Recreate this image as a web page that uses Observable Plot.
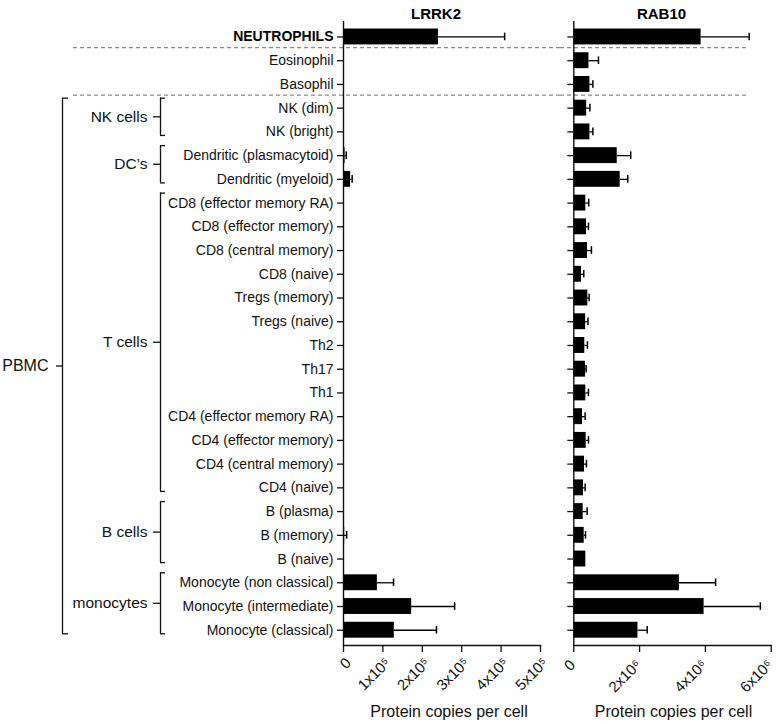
<!DOCTYPE html>
<html><head><meta charset="utf-8">
<script src="https://cdn.jsdelivr.net/npm/d3@7"></script>
<script src="https://cdn.jsdelivr.net/npm/@observablehq/plot@0.6"></script>
<style>
body{margin:0;background:#fff}
#wrap{position:relative;width:780px;height:724px;font-family:"Liberation Sans",Arial,sans-serif}
#left{position:absolute;left:0;top:0}
#right{position:absolute;left:560px;top:0}
</style></head><body>
<div id="wrap"><div id="left"></div><div id="right"></div></div>
<script>
// ---- data ----
const cellTypes = [
  "NEUTROPHILS","Eosinophil","Basophil","NK (dim)","NK (bright)",
  "Dendritic (plasmacytoid)","Dendritic (myeloid)",
  "CD8 (effector memory RA)","CD8 (effector memory)","CD8 (central memory)","CD8 (naive)",
  "Tregs (memory)","Tregs (naive)","Th2","Th17","Th1",
  "CD4 (effector memory RA)","CD4 (effector memory)","CD4 (central memory)","CD4 (naive)",
  "B (plasma)","B (memory)","B (naive)",
  "Monocyte (non classical)","Monocyte (intermediate)","Monocyte (classical)"
];
const boldRows = ["NEUTROPHILS"];
// LRRK2 copies per cell (null = not detected)
const lrrk2Mean = [241000,null,null,null,null,4000,18000,null,null,null,null,null,null,null,null,null,null,null,null,null,null,3000,null,86000,173000,129000];
const lrrk2SD   = [168000,null,null,null,null,3000,4000,null,null,null,null,null,null,null,null,null,null,null,null,null,null,5000,null,41000,109000,107000];
// RAB10 copies per cell
const rab10Mean = [3870000,460000,490000,390000,490000,1320000,1410000,365000,386000,416000,234000,426000,360000,334000,356000,365000,264000,377000,325000,295000,286000,316000,365000,3210000,3960000,1950000];
const rab10SD   = [1460000,290000,90000,100000,90000,410000,230000,90000,60000,120000,70000,40000,70000,80000,20000,80000,80000,70000,60000,50000,120000,40000,0,1100000,1710000,280000];
const lrrk2Ticks = [0,100000,200000,300000,400000,500000];
const rab10Ticks = [0,2000000,4000000,6000000];
const separators = [0.5, 2.5];
const subGroups = [
  {name:"NK cells", first:3, last:4},
  {name:"DC\u2019s", first:5, last:6},
  {name:"T cells", first:7, last:19},
  {name:"B cells", first:20, last:22},
  {name:"monocytes", first:23, last:25}
];
const parentGroups = [{name:"PBMC", first:3, last:25}];

// ---- helpers ----
const sup = {"5":"\u2075","6":"\u2076"};
const fmt = exp => d => d === 0 ? "0" : `${d / 10 ** exp}x10${sup[exp]}`;
const INK = "#111";
const gTop = g => g.first - 0.42, gBot = g => g.last + 0.15, gMid = g => (gTop(g) + gBot(g)) / 2;

function panel(o) {
  const rows = cellTypes.map((name, i) => ({name, i, v: o.mean[i], e: o.mean[i] == null ? null : o.mean[i] + o.sd[i]}));
  const present = rows.filter(d => d.v != null);
  const withErr = present.filter(d => d.e > d.v);
  const marks = [
    Plot.ruleY(separators, {y: d => d, dy: -1.2, stroke: "#8a8a8a", strokeWidth: 1.3, strokeDasharray: "4,3", insetLeft: o.sepL, insetRight: o.sepR}),
    Plot.rect(present, {x1: 0, x2: "v", y1: d => d.i - 0.335, y2: d => d.i + 0.335, fill: "#000"}),
    Plot.ruleY(withErr, {y: "i", x1: "v", x2: "e", stroke: "#000", strokeWidth: 1.3}),
    Plot.ruleX(withErr, {x: "e", y1: d => d.i - 0.16, y2: d => d.i + 0.16, stroke: "#000", strokeWidth: 1.5}),
    Plot.ruleX([0], {stroke: INK, strokeWidth: 1.4}),
    Plot.axisY(d3.range(cellTypes.length), {tickSize: 6, tickFormat: () => "", label: null, stroke: INK, strokeWidth: 1.3}),
    Plot.frame({anchor: "bottom", stroke: INK, strokeWidth: 1.4}),
    Plot.axisX(o.ticks, {tickSize: 7, tickFormat: () => "", label: null, stroke: INK, strokeWidth: 1.3}),
    Plot.axisX(o.ticks, {tickSize: 0, tickPadding: o.tickPad, dx: o.tickDx, tickRotate: -45, tickFormat: fmt(o.exp), label: null, fontSize: 15, fill: INK}),
    Plot.text([o.title], {text: d => d, frameAnchor: "top", dy: -13.5, dx: o.titleDx, fontWeight: "bold", fontSize: 15, fill: "#000"}),
    Plot.text(["Protein copies per cell"], {text: d => d, frameAnchor: "bottom", dy: 71, dx: o.labelDx, fontSize: 16, fill: INK})
  ];
  if (o.labels) {
    marks.push(
      Plot.text(rows.filter(d => !boldRows.includes(d.name)), {x: 0, y: "i", text: "name", textAnchor: "end", dx: -10, fontSize: 14, fill: INK}),
      Plot.text(rows.filter(d => boldRows.includes(d.name)), {x: 0, y: "i", text: "name", textAnchor: "end", dx: -10, fontSize: 14, fontWeight: "bold", fill: "#000"}),
      // sub-group brackets
      Plot.ruleX(subGroups, {x: 0, y1: gTop, y2: gBot, dx: -183, stroke: INK, strokeWidth: 1.3}),
      Plot.ruleY(subGroups, {y: gTop, insetLeft: -183, insetRight: 375, stroke: INK, strokeWidth: 1.3}),
      Plot.ruleY(subGroups, {y: gBot, insetLeft: -183, insetRight: 375, stroke: INK, strokeWidth: 1.3}),
      Plot.ruleY(subGroups, {y: gMid, insetLeft: -190, insetRight: 380, stroke: INK, strokeWidth: 1.3}),
      Plot.text(subGroups, {x: 0, y: gMid, text: "name", textAnchor: "end", dx: -196, fontSize: 15.5, fill: INK}),
      // parent bracket
      Plot.ruleX(parentGroups, {x: 0, y1: gTop, y2: gBot, dx: -281, stroke: INK, strokeWidth: 1.3}),
      Plot.ruleY(parentGroups, {y: gTop, insetLeft: -281, insetRight: 472, stroke: INK, strokeWidth: 1.3}),
      Plot.ruleY(parentGroups, {y: gBot, insetLeft: -281, insetRight: 472, stroke: INK, strokeWidth: 1.3}),
      Plot.ruleY(parentGroups, {y: gMid, insetLeft: -287, insetRight: 478, stroke: INK, strokeWidth: 1.3}),
      Plot.text(parentGroups, {x: 0, y: gMid, text: "name", textAnchor: "end", dx: -295, fontSize: 16, fill: INK})
    );
  }
  return Plot.plot({
    width: o.width, height: 724,
    marginLeft: o.marginLeft, marginRight: o.marginRight, marginTop: 21, marginBottom: 79,
    style: {fontFamily: "Liberation Sans, Arial, sans-serif", fontSize: "14px", color: INK, background: "transparent", overflow: "visible"},
    x: {domain: o.domain},
    y: {domain: [-0.5, cellTypes.length - 0.5], reverse: true, insetTop: 3.6, insetBottom: 3.4},
    marks
  });
}

document.getElementById("left").append(panel({
  title: "LRRK2", mean: lrrk2Mean, sd: lrrk2SD, ticks: lrrk2Ticks, exp: 5, domain: [0, 500000],
  width: 560, marginLeft: 343, marginRight: 20, titleDx: -6, labelDx: 7, sepL: -270, sepR: -20,
  tickPad: 15, tickDx: 5, labels: true
}));
document.getElementById("right").append(panel({
  title: "RAB10", mean: rab10Mean, sd: rab10SD, ticks: rab10Ticks, exp: 6, domain: [0, 6000000],
  width: 220, marginLeft: 13.3, marginRight: 9.3, titleDx: -11, labelDx: 1, sepL: -13.3, sepR: 23,
  tickPad: 17, tickDx: -1, labels: false
}));
</script>
</body></html>
